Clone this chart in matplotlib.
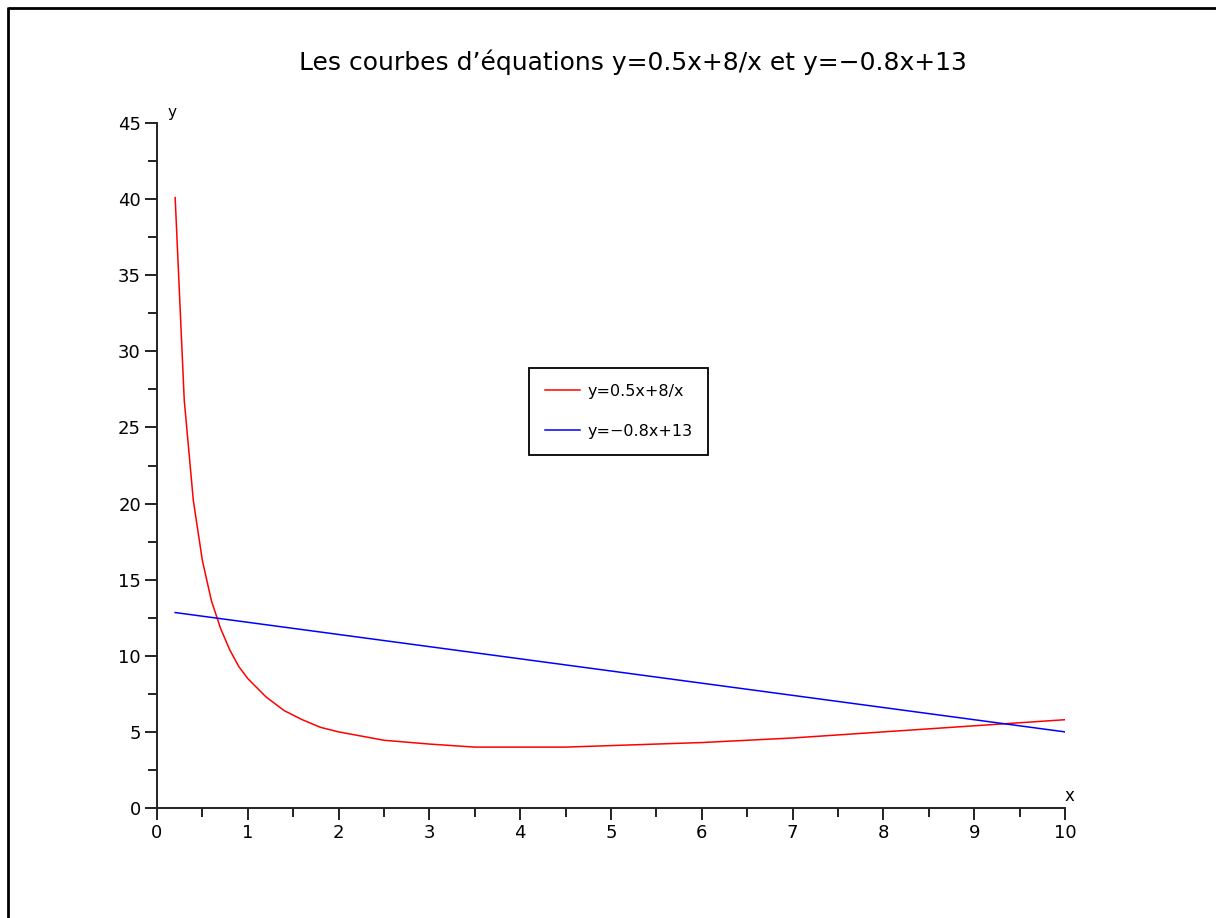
import matplotlib
matplotlib.use("Agg")
import matplotlib.pyplot as plt
from matplotlib.lines import Line2D
from matplotlib.ticker import MultipleLocator

# ---- data
x_red = [0.2, 0.3, 0.4, 0.5, 0.6, 0.7, 0.8, 0.9, 1.0, 1.2, 1.4, 1.6, 1.8, 2.0,
         2.5, 3.0, 3.5, 4.0, 4.5, 5.0, 6.0, 7.0, 8.0, 9.0, 10.0]
y_red = [40.1, 26.8, 20.2, 16.25, 13.6, 11.8, 10.4, 9.3, 8.5, 7.3, 6.4, 5.8, 5.3, 5.0,
         4.45, 4.2, 4.0, 4.0, 4.0, 4.1, 4.3, 4.6, 5.0, 5.4, 5.8]
x_blue = [0.2, 2.0, 4.0, 6.0, 8.0, 10.0]
y_blue = [12.84, 11.4, 9.8, 8.2, 6.6, 5.0]

title = "Les courbes d\u2019\u00e9quations y=0.5x+8/x et y=\u22120.8x+13"
label_red = "y=0.5x+8/x"
label_blue = "y=\u22120.8x+13"

W, H = 1216, 918
fig = plt.figure(figsize=(W / 100, H / 100), dpi=100)
ax = fig.add_axes([157 / W, 1 - 808 / H, (1065 - 157) / W, (808 - 123) / H])

ax.plot(x_red, y_red, color="#ff0000", lw=1.1, label=label_red)
ax.plot(x_blue, y_blue, color="#0000ff", lw=1.1, label=label_blue)

ax.set_xlim(0, 10)
ax.set_ylim(0, 45)
ax.xaxis.set_major_locator(MultipleLocator(1))
ax.xaxis.set_minor_locator(MultipleLocator(0.5))
ax.yaxis.set_major_locator(MultipleLocator(5))
ax.yaxis.set_minor_locator(MultipleLocator(2.5))

for s in ["top", "right"]:
    ax.spines[s].set_visible(False)
for s in ["left", "bottom"]:
    ax.spines[s].set_linewidth(1.4)
    ax.spines[s].set_color("#222222")
ax.tick_params(which="major", length=8.6, width=1.4, color="#222222",
               labelsize=13, pad=3, direction="out")
ax.tick_params(which="minor", length=6.5, width=1.4, color="#222222", direction="out")

# small axis names at the ends of the axes
fig.text(167 / W, 1 - 113 / H, "y", fontsize=11, ha="left", va="center")
fig.text(1065 / W, 1 - 796 / H, "x", fontsize=12, ha="left", va="center")

fig.text(633 / W, 1 - 62 / H, title, fontsize=18, ha="center", va="center")

leg = ax.legend(loc="upper left", bbox_to_anchor=(529 / W, 1 - 368 / H),
                bbox_transform=fig.transFigure, fontsize=11.5, frameon=True,
                fancybox=False, shadow=False, framealpha=1, edgecolor="black",
                borderpad=1.0, labelspacing=1.55, handlelength=2.2,
                handletextpad=0.45, borderaxespad=0)
leg.get_frame().set_linewidth(1.3)

# outer frame: top and left edges only
fig.add_artist(Line2D([8 / W, 1], [1 - 8 / H, 1 - 8 / H], color="black", lw=2,
                      transform=fig.transFigure, solid_capstyle="butt"))
fig.add_artist(Line2D([8 / W, 8 / W], [0, 1 - 7 / H], color="black", lw=2,
                      transform=fig.transFigure, solid_capstyle="butt"))

fig.savefig("out.png", dpi=100)
